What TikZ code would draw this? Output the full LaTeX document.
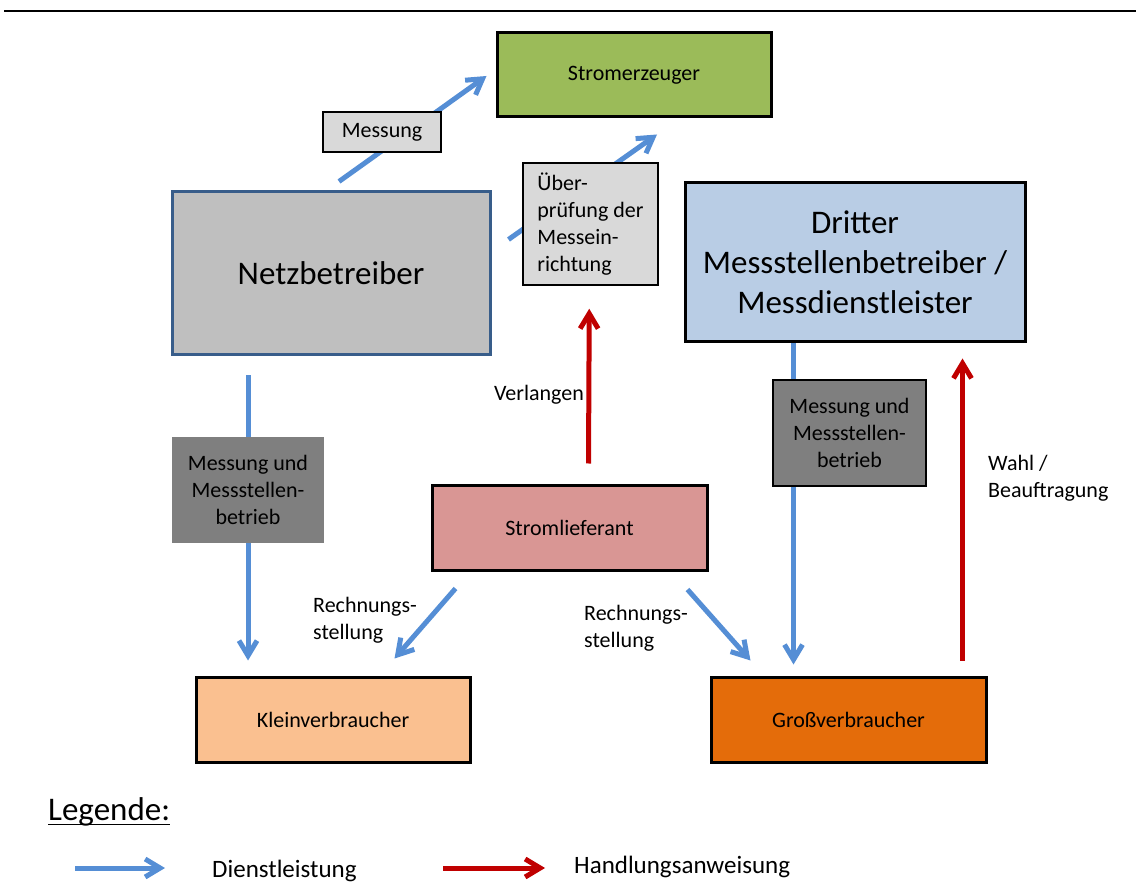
\documentclass[tikz,border=0pt]{standalone}
\usepackage{fontspec}
\setmainfont{Carlito}
\usetikzlibrary{arrows.meta,calc}
\pgfdeclarelayer{background}
\pgfsetlayers{background,main}

\definecolor{cErz}{HTML}{9BBB59}
\definecolor{cNetz}{HTML}{BFBFBF}
\definecolor{cNetzLine}{HTML}{385D8A}
\definecolor{cDritter}{HTML}{B9CDE5}
\definecolor{cLiefer}{HTML}{D99694}
\definecolor{cKlein}{HTML}{FAC090}
\definecolor{cGross}{HTML}{E46C0A}
\definecolor{cTag}{HTML}{D9D9D9}
\definecolor{cDark}{HTML}{7F7F7F}
\definecolor{cBlue}{HTML}{558ED5}
\definecolor{cRed}{HTML}{C00000}

\begin{document}
\begin{tikzpicture}[x=1pt,y=-1pt,
  sm/.style={font=\fontsize{22}{27}\selectfont},
  lg/.style={font=\fontsize{33}{40}\selectfont},
  leg/.style={font=\fontsize{25}{30}\selectfont, inner sep=0pt, anchor=west},
  box/.style={draw, line width=3pt, inner sep=0pt, align=center, sm},
  tag/.style={draw, line width=1.5pt, inner sep=0pt, align=center, sm},
  txt/.style={sm, inner sep=0pt, align=left},
  flow/.style={line width=5pt, -{Straight Barb[length=15pt,width=18pt]}},
  service/.style={flow, draw=cBlue},
  order/.style={flow, draw=cRed},
]
\useasboundingbox (0,0) rectangle (1136,882);

% header rule
\draw[line width=2.5pt] (4,11) -- (1136,11);

% actors
\node[box, fill=cErz, minimum width=274pt, minimum height=84pt] (erz) at (634,75) {Stromerzeuger};
\node[box, lg, draw=cNetzLine, fill=cNetz, minimum width=318pt, minimum height=163pt] (netz) at (331,273.5) {Netzbetreiber};
\node[box, lg, fill=cDritter, minimum width=340pt, minimum height=159pt] (dritter) at (855,262.5)
  {Dritter\\Messstellenbetreiber /\\Messdienstleister};
\node[box, fill=cLiefer, minimum width=275pt, minimum height=84pt] (liefer) at (569.5,528) {Stromlieferant};
\node[box, fill=cKlein, minimum width=274pt, minimum height=85pt] (klein) at (333,719.5) {Kleinverbraucher};
\node[box, fill=cGross, minimum width=275pt, minimum height=85pt] (gross) at (848.5,719.5) {Großverbraucher};

% service labels
\node[tag, fill=cTag, minimum width=118pt, minimum height=40pt] (tMess) at (382,132) {Messung};
\node[tag, fill=cTag, align=left, minimum width=135pt, minimum height=122pt] (pruef) at (590.5,224)
  {Über-\\prüfung der\\Messein-\\richtung};
\node[tag, draw=none, fill=cDark, minimum width=152pt, minimum height=106pt] (mmL) at (248,490)
  {Messung und\\Messstellen-\\betrieb};
\node[tag, fill=cDark, minimum width=153pt, minimum height=106pt] (mmR) at (849.5,433)
  {Messung und\\Messstellen-\\betrieb};

% free labels
\node[txt] (verl) at (539,395) {Verlangen};
\node[txt, anchor=west] (rechL) at (313,620) {Rechnungs-\\stellung};
\node[txt, anchor=west] (rechR) at (584,628) {Rechnungs-\\stellung};
\node[txt, anchor=west] (wahl) at (988,478) {Wahl /\\Beauftragung};

% connectors
\begin{pgfonlayer}{background}
\draw[service] ($(netz.north)+(8,-9)$) -- ($(erz.west)+(-9,1)$);
\draw[service] ($(netz.north east)+(17,49)$) -- ($(erz.south)+(23,16)$);
\draw[service] ($(netz.south -| mmL.center)+(0,19)$) -- ($(klein.north -| mmL.center)+(0,-15)$);
\draw[service] ($(dritter.south west)+(110,0)$) -- ($(gross.north west)+(84,-11)$);
\draw[service] ($(liefer.south west)+(25,17)$) -- ($(klein.north west)+(200,-17)$);
\draw[service] ($(liefer.south east)+(-21,18)$) -- ($(gross.north west)+(41,-15)$);
\draw[order] ($(liefer.north west)+(158,-21)$) -- ($(pruef.south west)+(67,23)$);
\draw[order] ($(gross.north west)+(253,-15)$) -- ($(dritter.south west)+(279,15)$);
\end{pgfonlayer}

% legend
\node[lg, inner sep=0pt, anchor=base west] (legende) at (48,820) {Legende:};
\draw[line width=1.6pt] ($(legende.base west)+(0,4.5)$) -- ($(legende.base east)+(0,4.5)$);
\coordinate (lbA) at (75,868);
\coordinate (lbB) at (165,868);
\coordinate (lrA) at (443,868);
\coordinate (lrB) at (545,868);
\draw[service] (lbA) -- (lbB);
\draw[order] (lrA) -- (lrB);
\node[leg] (ldienst) at (212,871) {Dienstleistung};
\node[leg] (lhand) at (574,867) {Handlungsanweisung};
\end{tikzpicture}
\end{document}
